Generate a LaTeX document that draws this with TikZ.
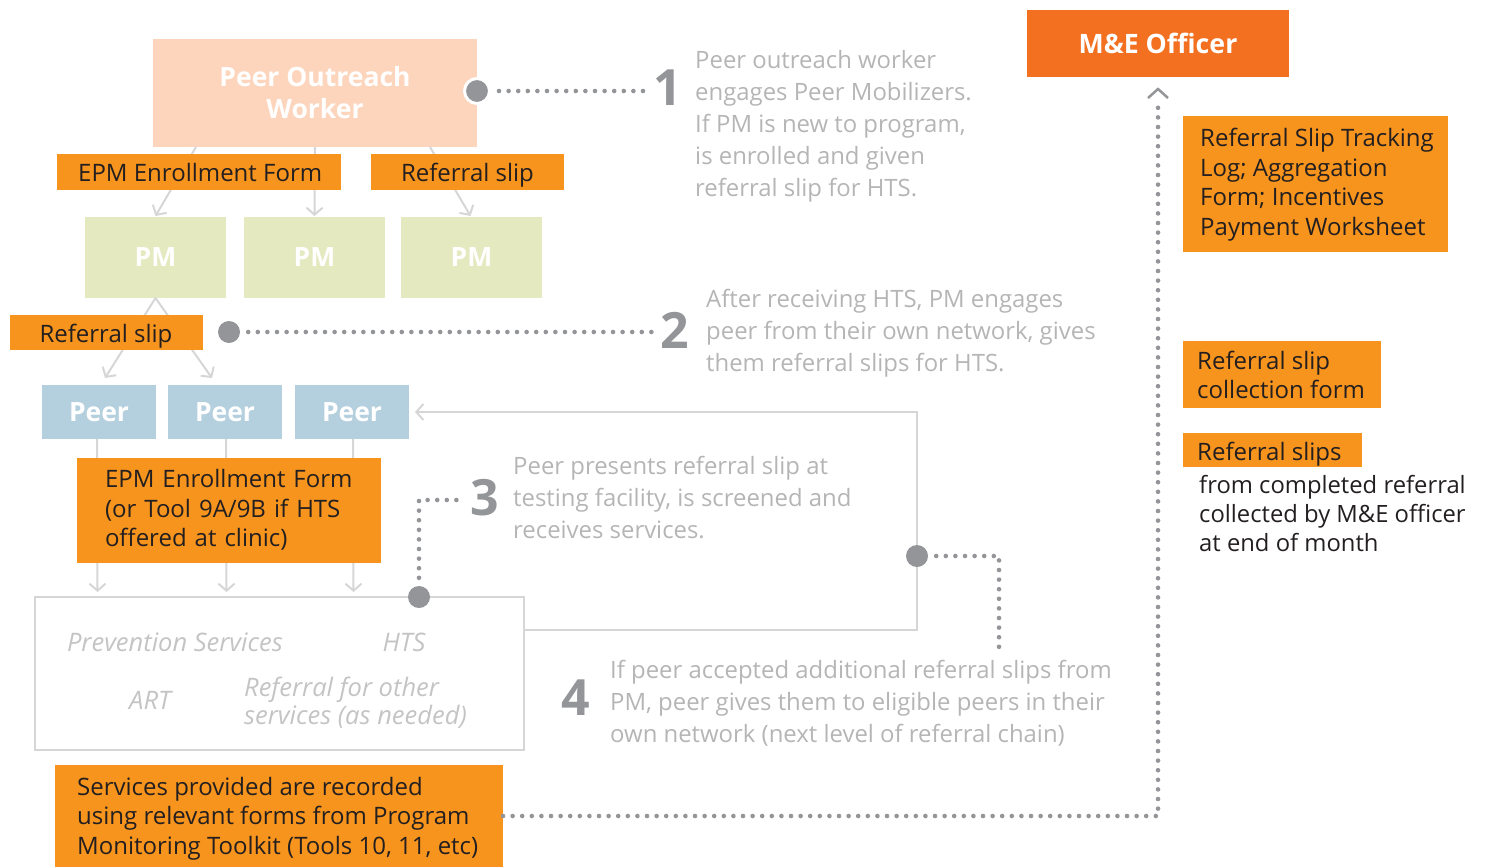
\documentclass[tikz,border=0pt]{standalone}
\usepackage{fontspec}
\setmainfont{Open Sans}
\usetikzlibrary{arrows.meta,calc}
\definecolor{orng}{HTML}{F7941D}
\definecolor{meorng}{HTML}{F37021}
\definecolor{peach}{HTML}{FCD5BC}
\definecolor{pmgreen}{HTML}{E5E9BF}
\definecolor{peerblue}{HTML}{B4D0DE}
\definecolor{linegray}{HTML}{D6D6D6}
\definecolor{dotgray}{HTML}{939598}
\definecolor{txtgray}{HTML}{B5B5B5}
\definecolor{darktxt}{HTML}{231F20}
\begin{document}
\begin{tikzpicture}[x=1pt,y=-1pt,
  fillbox/.style={inner sep=0pt, outer sep=0pt},
  whitebold/.style={text=white, font=\fontsize{26.5}{32}\selectfont\bfseries, align=center},
  formbox/.style={fill=orng, text=darktxt, inner ysep=0pt, outer sep=0pt, font=\fontsize{24}{29.5}\selectfont, align=left},
  formtext/.style={text=darktxt, font=\fontsize{24}{29.5}\selectfont, align=left, inner sep=0pt},
  graytext/.style={text=txtgray, font=\fontsize{23.9}{32}\selectfont, align=left, anchor=base west, inner sep=0pt},
  svctext/.style={text=txtgray!80, font=\fontsize{25.5}{28}\selectfont\itshape, inner sep=0pt},
  num/.style={text=dotgray, font=\fontsize{50}{50}\selectfont\bfseries, inner sep=0pt},
  conn/.style={draw=linegray, line width=2pt},
  arr/.style={conn, -{Straight Barb[length=7pt,width=16pt,line width=2pt]}},
  dotline/.style={draw=dotgray, line width=4.6pt, line cap=round, dash pattern=on 0pt off 9.6pt},
  bigdot/.style={circle, fill=dotgray, inner sep=0pt, minimum size=22pt},
]
\useasboundingbox (0,0) rectangle (1487,867);

% ---------- top level ----------
\node[fillbox, fill=peach, minimum width=324pt, minimum height=108pt, whitebold] (pow) at (315,93) {Peer Outreach\\Worker};

\node[fillbox, fill=pmgreen, minimum width=141pt, minimum height=81pt, whitebold] (pm1) at (155.5,257.5) {PM};
\node[fillbox, fill=pmgreen, minimum width=141pt, minimum height=81pt, whitebold] (pm2) at (314.5,257.5) {PM};
\node[fillbox, fill=pmgreen, minimum width=141pt, minimum height=81pt, whitebold] (pm3) at (471.5,257.5) {PM};

\draw[arr] ($(pow.south)+(-119,0)$) -- ($(pm1.north)+(0,-1)$);
\draw[arr] (pow.south) -- ($(pm2.north)+(0,-1)$);
\draw[arr] ($(pow.south)+(115,0)$) -- ($(pm3.north)+(-1,-1)$);

\node[fillbox, fill=orng, minimum width=284pt, minimum height=36pt] (epm1) at (199,172) {};
\node[formtext, anchor=base west] (epm1t) at (78,181) {EPM Enrollment Form};
\node[fillbox, fill=orng, minimum width=193pt, minimum height=36pt] (ref1) at (467.5,172) {};
\node[formtext, anchor=base] (ref1t) at (467.5,181) {Referral slip};

% ---------- peers ----------
\node[fillbox, fill=peerblue, minimum width=114pt, minimum height=54pt, whitebold] (peer1) at (99,412) {Peer};
\node[fillbox, fill=peerblue, minimum width=114pt, minimum height=54pt, whitebold] (peer2) at (225,412) {Peer};
\node[fillbox, fill=peerblue, minimum width=114pt, minimum height=54pt, whitebold] (peer3) at (352,412) {Peer};

\draw[arr] (pm1.south) -- ($(peer1.north)+(6,-7)$);
\draw[arr] (pm1.south) -- ($(peer2.north)+(-13,-7)$);

\node[fillbox, fill=orng, minimum width=193pt, minimum height=35pt] (ref2) at (106.5,332.5) {};
\node[formtext, anchor=base] (ref2t) at (106,342) {Referral slip};

% ---------- services ----------
\node[draw=linegray, line width=2pt, minimum width=489pt, minimum height=153pt, inner sep=0pt] (svc) at (279.5,673.5) {};
\node[svctext] (s1) at (175,642) {Prevention Services};
\node[svctext] (s2) at (404,642) {HTS};
\node[svctext] (s3) at (150,700) {ART};
\node[svctext, align=left, anchor=west] (s4) at (244,703) {Referral for other\\services (as needed)};

\draw[arr] ($(peer1.south)+(-2,0)$) -- ($(svc.north)+(-182,-4)$);
\draw[arr] ($(peer2.south)+(1,0)$) -- ($(svc.north)+(-53,-4)$);
\draw[arr] ($(peer3.south)+(1,0)$) -- ($(svc.north)+(74,-4)$);

\node[formbox, minimum width=304pt, minimum height=105pt, text width=248pt, inner xsep=28pt] (epm2) at (229,510) {EPM Enrollment Form\\(or Tool 9A/9B if HTS\\offered at clinic)};

\coordinate (lp) at (917,556);
\draw[conn, -{Straight Barb[length=7pt,width=16pt,line width=2pt]}, shorten >=6pt] ($(svc.east)+(0,-43.5)$) -| (lp) |- (peer3.east);

\node[fillbox, fill=orng, minimum width=448pt, minimum height=102pt] (recbg) at (279,816) {};
\node[formtext, anchor=base west] (rec) at (77,854) {Services provided are recorded\\using relevant forms from Program\\Monitoring Toolkit (Tools 10, 11, etc)};

% ---------- M&E ----------
\node[fillbox, fill=meorng, minimum width=262pt, minimum height=67pt, text=white, font=\fontsize{26.7}{30}\selectfont\bfseries] (me) at (1158,43.5) {M\&E Officer};

\node[fillbox, fill=orng, minimum width=265pt, minimum height=136pt] (rst) at (1315.5,184) {};
\node[formtext, anchor=base west] (rstt) at (1200,235) {Referral Slip Tracking\\Log; Aggregation\\Form; Incentives\\Payment Worksheet};
\node[fillbox, fill=orng, minimum width=198pt, minimum height=67pt] (rsc) at (1282,374.5) {};
\node[formtext, font=\fontsize{24}{28.5}\selectfont, anchor=base west] (rsct) at (1197,398) {Referral slip\\collection form};
\node[fillbox, fill=orng, minimum width=179pt, minimum height=34pt] (rss) at (1272.5,450) {};
\node[formtext, anchor=base west] (rsst) at (1197,460) {Referral slips};
\node[text=darktxt, font=\fontsize{23.8}{29}\selectfont, align=left, anchor=base west, inner sep=0pt] (rsn) at (1199,551) {from completed referral\\collected by M\&E officer\\at end of month};

\draw[dotline] (recbg.east) -| ($(me.south)+(0,22)$);
\draw[draw=dotgray, line width=2.5pt] ($(me.south)+(-10,21)$) -- ($(me.south)+(0,12)$) -- ($(me.south)+(10,21)$);

% ---------- numbered notes ----------
\node[circle, fill=dotgray, draw=white, line width=3pt, inner sep=0pt, minimum size=25pt] (d1) at (477,91) {};
\node[num] (n1) at (668,88) {1};
\draw[dotline] ($(d1.east)+(8,0)$) -- ($(n1.west)+(-6,3)$);
\node[graytext] (t1) at (695,196) {Peer outreach worker\\engages Peer Mobilizers.\\If PM is new to program,\\is enrolled and given\\referral slip for HTS.};

\node[bigdot] (d2) at (229,332) {};
\node[num] (n2) at (675,330) {2};
\draw[dotline] ($(d2.east)+(8,0)$) -- ($(n2.west)+(-8,2)$);
\node[graytext] (t2) at (706,371) {After receiving HTS, PM engages\\peer from their own network, gives\\them referral slips for HTS.};

\node[bigdot] (d3) at (419,597) {};
\node[num] (n3) at (485,498) {3};
\draw[dotline] ($(d3.north)+(0,-8)$) |- ($(n3.west)+(-8,2)$);
\node[graytext] (t3) at (513,538) {Peer presents referral slip at\\testing facility, is screened and\\receives services.};

\node[bigdot] (d4) at (lp) {};
\coordinate (e4) at (999,650);
\draw[dotline] ($(d4.east)+(8,0)$) -| (e4);
\node[num] (n4) at (576,698) {4};
\node[graytext] (t4) at (610,742) {If peer accepted additional referral slips from\\PM, peer gives them to eligible peers in their\\own network (next level of referral chain)};
\end{tikzpicture}
\end{document}
